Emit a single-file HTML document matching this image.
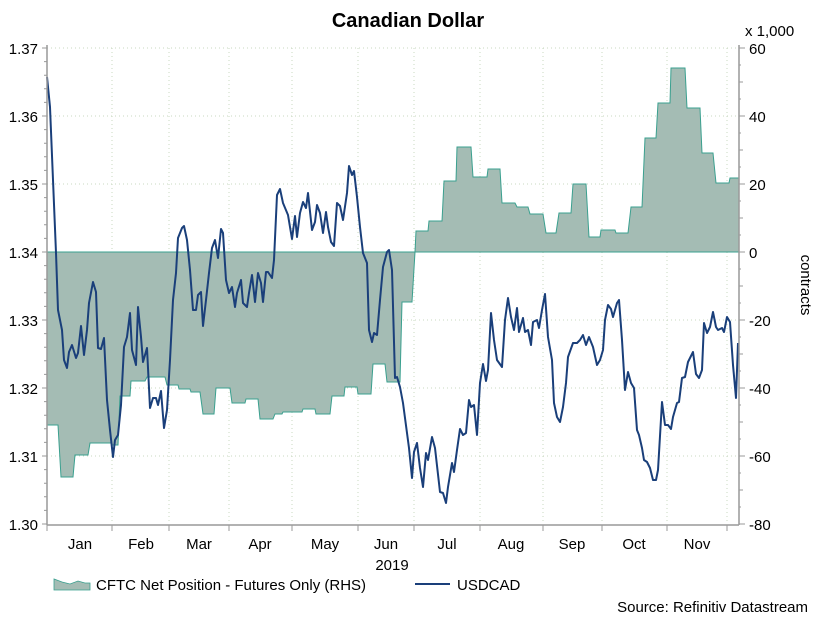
<!DOCTYPE html>
<html><head><meta charset="utf-8"><style>
html,body{margin:0;padding:0;background:#fff;}
svg{display:block;font-family:"Liberation Sans",Arial,sans-serif;}
</style></head><body>
<svg width="816" height="619" viewBox="0 0 816 619" xmlns="http://www.w3.org/2000/svg">
<text x="408" y="27" text-anchor="middle" font-size="20" font-weight="bold" fill="#000">Canadian Dollar</text>
<g stroke="#c8d8c0" stroke-width="1" stroke-dasharray="1,3">
<line x1="47" y1="116" x2="739" y2="116"/><line x1="47" y1="184" x2="739" y2="184"/>
<line x1="47" y1="320" x2="739" y2="320"/><line x1="47" y1="388" x2="739" y2="388"/><line x1="47" y1="456" x2="739" y2="456"/>
<line x1="47" y1="48" x2="739" y2="48"/>
<line x1="112" y1="48" x2="112" y2="524"/><line x1="169" y1="48" x2="169" y2="524"/><line x1="229" y1="48" x2="229" y2="524"/>
<line x1="292" y1="48" x2="292" y2="524"/><line x1="358" y1="48" x2="358" y2="524"/><line x1="414" y1="48" x2="414" y2="524"/>
<line x1="480" y1="48" x2="480" y2="524"/><line x1="543" y1="48" x2="543" y2="524"/><line x1="602" y1="48" x2="602" y2="524"/>
<line x1="667" y1="48" x2="667" y2="524"/><line x1="727" y1="48" x2="727" y2="524"/>
</g>
<path fill="#a4bcb4" stroke="#3aa08f" stroke-width="1" d="M47,252 L47,425 L58,425 L61,477 L73,477 L75,455 L88,455 L90,443 L111,443 L112,445 L118,445 L120,396 L130,396 L131,381 L145,381 L147,377 L165,377 L167,385 L178,385 L179,389 L190,389 L191,392 L200,392 L203,414 L214,414 L216,388 L230,388 L232,403 L245,403 L246,399 L258,399 L260,419 L273,419 L275,414 L282,414 L283,412 L302,412 L303,409 L315,409 L316,414 L330,414 L332,396 L344,396 L345,387 L357,387 L358,394 L371,394 L373,364 L385,364 L387,382 L400,382 L402,302 L412,302 L415,252 L416,231 L428,231 L429,221 L442,221 L444,181 L456,181 L457,147 L471,147 L473,177 L487,177 L488,169 L500,169 L502,203 L515,203 L517,207 L528,207 L530,214 L543,214 L546,233 L556,233 L559,213 L571,213 L573,184 L586,184 L589,237 L600,237 L601,230 L615,230 L616,233 L628,233 L631,207 L642,207 L645,138 L656,138 L658,103 L670,103 L671,68 L685,68 L687,108 L700,108 L702,153 L713,153 L716,183 L729,183 L730,178 L739,178 L739,252 Z"/>
<path fill="none" stroke="#1a3f7a" stroke-width="2" stroke-linejoin="round" d="M47,77 L50,107 L53,180 L56,253 L58,310 L62,330 L64,360 L67,368 L69,352 L72,345 L76,358 L78,353 L81,326 L84,355 L87,330 L89,303 L93,282 L96,292 L98,348 L101,349 L104,338 L107,400 L110,430 L113,457 L115,440 L118,435 L121,405 L124,347 L127,337 L130,313 L132,350 L136,365 L138,307 L141,337 L143,362 L147,348 L150,408 L153,398 L156,398 L158,405 L161,391 L164,428 L167,410 L170,360 L173,300 L176,273 L178,238 L182,228 L184,226 L187,240 L190,270 L193,310 L196,310 L198,295 L201,292 L203,326 L206,300 L209,273 L212,248 L215,240 L218,258 L221,229 L223,233 L226,280 L229,293 L232,287 L235,307 L237,293 L241,280 L243,303 L247,307 L249,293 L252,275 L255,302 L258,273 L261,283 L263,302 L266,272 L268,272 L272,278 L274,260 L277,195 L280,189 L283,203 L288,215 L292,239 L295,216 L297,237 L300,213 L303,202 L306,208 L308,193 L312,230 L315,222 L317,205 L320,213 L323,233 L326,212 L328,227 L331,242 L334,246 L337,203 L340,206 L343,220 L347,193 L349,166 L352,175 L354,171 L357,197 L360,227 L363,253 L367,263 L369,330 L372,342 L374,333 L377,335 L380,300 L383,267 L387,252 L389,250 L392,270 L395,378 L397,377 L400,387 L403,403 L407,433 L409,448 L412,478 L414,452 L417,443 L420,468 L423,487 L426,453 L428,460 L432,437 L435,448 L440,492 L443,493 L446,503 L448,487 L452,463 L454,472 L457,450 L460,429 L463,435 L466,433 L469,400 L471,407 L474,405 L477,435 L480,383 L483,364 L486,381 L488,370 L491,313 L494,340 L497,360 L502,367 L505,320 L508,298 L511,317 L514,330 L517,308 L519,332 L523,318 L525,332 L528,330 L531,345 L533,322 L537,320 L539,328 L542,310 L545,294 L548,337 L552,360 L554,403 L557,417 L560,422 L563,407 L566,383 L568,357 L573,343 L577,343 L580,340 L583,335 L586,345 L589,337 L593,347 L597,365 L600,360 L603,350 L605,320 L608,305 L611,309 L613,317 L617,303 L619,300 L622,340 L625,390 L628,372 L631,383 L634,388 L637,430 L639,435 L642,448 L644,460 L647,462 L650,468 L653,480 L656,480 L658,470 L662,402 L665,425 L668,425 L671,429 L673,417 L677,403 L679,402 L682,378 L685,377 L688,362 L693,352 L696,374 L699,378 L702,370 L704,323 L707,333 L710,327 L713,312 L716,327 L718,330 L722,328 L724,332 L727,317 L730,322 L733,365 L736,398 L738,343"/>
<g stroke="#999" stroke-width="1.5" fill="none">
<line x1="47" y1="45" x2="47" y2="525"/><line x1="739" y1="45" x2="739" y2="525"/><line x1="47" y1="525" x2="739" y2="525"/>
</g>
<g stroke="#999" stroke-width="1">
<path d="M42,48H47M42,116H47M42,184H47M42,252H47M42,320H47M42,388H47M42,456H47M42,524H47"/>
<path d="M44,61.6H47M44,75.2H47M44,88.8H47M44,102.4H47M44,129.6H47M44,143.2H47M44,156.8H47M44,170.4H47M44,197.6H47M44,211.2H47M44,224.8H47M44,238.4H47M44,265.6H47M44,279.2H47M44,292.8H47M44,306.4H47M44,333.6H47M44,347.2H47M44,360.8H47M44,374.4H47M44,401.6H47M44,415.2H47M44,428.8H47M44,442.4H47M44,469.6H47M44,483.2H47M44,496.8H47M44,510.4H47"/>
<path d="M739,48H745M739,116H745M739,184H745M739,252H745M739,320H745M739,388H745M739,456H745M739,524H745"/>
<path d="M739,82H743M739,150H743M739,218H743M739,286H743M739,354H743M739,422H743M739,490H743M739,65H741M739,99H741M739,133H741M739,167H741M739,201H741M739,235H741M739,269H741M739,303H741M739,337H741M739,371H741M739,405H741M739,439H741M739,473H741M739,507H741"/>
<path d="M47,525V531M112,525V531M169,525V531M229,525V531M292,525V531M358,525V531M414,525V531M480,525V531M543,525V531M602,525V531M667,525V531M727,525V531"/>
</g>
<g font-size="15" fill="#000" text-anchor="end">
<text x="38" y="54">1.37</text><text x="38" y="122">1.36</text><text x="38" y="190">1.35</text><text x="38" y="258">1.34</text>
<text x="38" y="326">1.33</text><text x="38" y="394">1.32</text><text x="38" y="462">1.31</text><text x="38" y="530">1.30</text>
</g>
<g font-size="15" fill="#000">
<text x="749" y="54">60</text><text x="749" y="122">40</text><text x="749" y="190">20</text><text x="749" y="258">0</text>
<text x="749" y="326">-20</text><text x="749" y="394">-40</text><text x="749" y="462">-60</text><text x="749" y="530">-80</text>
<text x="745" y="36">x 1,000</text>
</g>
<text transform="translate(801,285) rotate(90)" font-size="15" text-anchor="middle" fill="#000">contracts</text>
<g font-size="15" fill="#000" text-anchor="middle">
<text x="80" y="549">Jan</text><text x="141" y="549">Feb</text><text x="199" y="549">Mar</text><text x="260" y="549">Apr</text>
<text x="325" y="549">May</text><text x="386" y="549">Jun</text><text x="447" y="549">Jul</text><text x="511" y="549">Aug</text>
<text x="572" y="549">Sep</text><text x="634" y="549">Oct</text><text x="697" y="549">Nov</text>
<text x="392" y="570">2019</text>
</g>
<path d="M54,590 L54,579 L62,582 L70,584 L78,581 L85,583 L90,583 L90,590 Z" fill="#a4bcb4" stroke="#3aa08f" stroke-width="0.8"/>
<text x="96" y="590" font-size="15" fill="#000">CFTC Net Position - Futures Only (RHS)</text>
<line x1="415" y1="584" x2="450" y2="584" stroke="#1a3f7a" stroke-width="2"/>
<text x="457" y="590" font-size="15" fill="#000">USDCAD</text>
<text x="808" y="612" font-size="15" fill="#000" text-anchor="end">Source: Refinitiv Datastream</text>
</svg>
</body></html>
